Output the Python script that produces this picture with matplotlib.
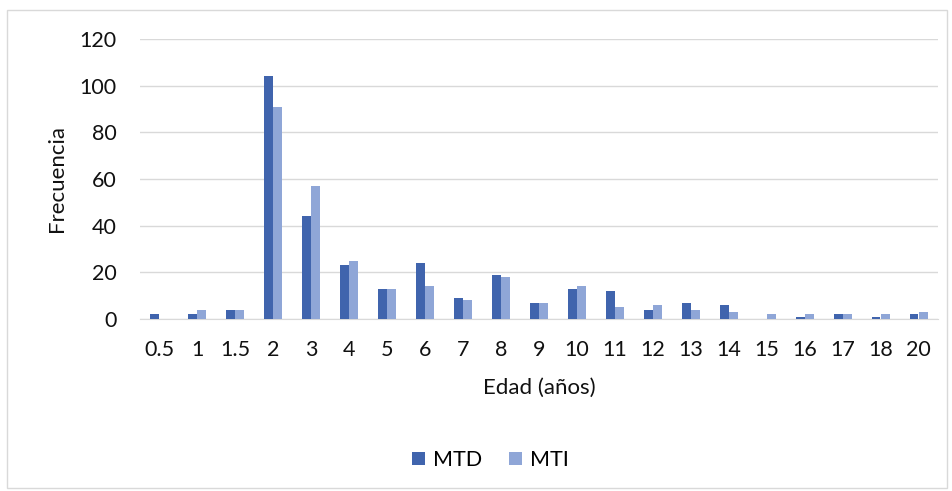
import numpy as np
import matplotlib
matplotlib.use("Agg")
import matplotlib.pyplot as plt
from matplotlib.patches import Rectangle

plt.rcParams['font.family'] = ['Lato', 'DejaVu Sans']

edades = ['0.5', '1', '1.5', '2', '3', '4', '5', '6', '7', '8', '9', '10',
          '11', '12', '13', '14', '15', '16', '17', '18', '20']
mtd = [2, 2, 4, 104, 44, 23, 13, 24, 9, 19, 7, 13, 12, 4, 7, 6, 0, 1, 2, 1, 2]
mti = [0, 4, 4, 91, 57, 25, 13, 14, 8, 18, 7, 14, 5, 6, 4, 3, 2, 2, 2, 2, 3]

c_mtd = '#4064AD'
c_mti = '#8FA6D7'
gris = '#D9D9D9'
texto = '#111111'

fig = plt.figure(figsize=(9.53, 4.91), dpi=100)
# borde del area del grafico
fig.patches.append(Rectangle((7 / 953, 3 / 491), 940 / 953, 478 / 491,
                             transform=fig.transFigure, fill=False,
                             edgecolor=gris, linewidth=1))

ax = fig.add_axes([0.147, 0.3503, 0.837, 0.5703])
x = np.arange(len(edades))
w = 0.235
ax.bar(x - 0.125, mtd, w, color=c_mtd, label='MTD', zorder=3)
ax.bar(x + 0.125, mti, w, color=c_mti, label='MTI', zorder=3)

ax.set_xlim(-0.5, len(edades) - 0.5)
ax.set_ylim(0, 120)
ax.set_yticks(range(0, 121, 20))
ax.set_xticks(x)
ax.set_xticklabels(edades)
ax.grid(axis='y', color=gris, linewidth=1, zorder=0)
ax.set_axisbelow(True)
for s in ['top', 'right', 'left']:
    ax.spines[s].set_visible(False)
ax.spines['bottom'].set_color(gris)
ax.tick_params(length=0, labelsize=15.5, colors=texto)
ax.tick_params(axis='y', pad=17)
ax.tick_params(axis='x', pad=15)

ax.set_ylabel('Frecuencia', fontsize=16, color=texto, labelpad=9)
ax.set_xlabel('Edad (años)', fontsize=16, color=texto, labelpad=13)

fig.legend(loc='center', bbox_to_anchor=(0.515, 0.063), ncol=2, frameon=False,
           fontsize=15.5, handlelength=0.6, handleheight=0.6, handletextpad=0.37,
           columnspacing=1.25)

fig.savefig('out.png', dpi=100)
